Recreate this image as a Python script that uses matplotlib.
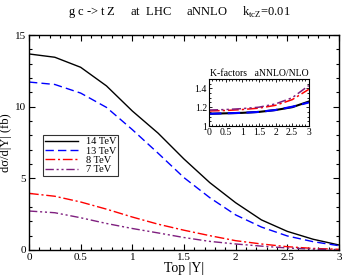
import matplotlib
matplotlib.use("Agg")
import matplotlib.pyplot as plt
from matplotlib.ticker import MultipleLocator

plt.rcParams['font.family'] = ['Liberation Serif', 'DejaVu Serif']
plt.rcParams['mathtext.fontset'] = 'custom'
plt.rcParams['mathtext.rm'] = 'Liberation Serif'

# ---- data ----
rap = [0, 0.25, 0.5, 0.75, 1.0, 1.25, 1.5, 1.75, 2.0, 2.25, 2.5, 2.75, 3.0]
xs14 = [13.68, 13.45, 12.75, 11.45, 9.7, 8.15, 6.35, 4.7, 3.3, 2.1, 1.3, 0.75, 0.35]
xs13 = [11.72, 11.55, 10.95, 9.95, 8.4, 6.75, 5.05, 3.65, 2.45, 1.6, 0.98, 0.58, 0.3]
xs8 = [3.95, 3.75, 3.35, 2.85, 2.3, 1.8, 1.38, 1.0, 0.65, 0.42, 0.23, 0.11, 0.05]
xs7 = [2.72, 2.6, 2.25, 1.85, 1.5, 1.19, 0.87, 0.6, 0.42, 0.27, 0.14, 0.06, 0.03]

krap = [0, 0.5, 1.0, 1.5, 2.0, 2.5, 3.0]
k14 = [1.13, 1.135, 1.14, 1.15, 1.17, 1.2, 1.26]
k13 = [1.13, 1.135, 1.14, 1.15, 1.17, 1.205, 1.25]
k8 = [1.16, 1.165, 1.175, 1.19, 1.22, 1.28, 1.39]
k7 = [1.17, 1.175, 1.185, 1.2, 1.235, 1.3, 1.43]

labels = ['14 TeV', '13 TeV', '8 TeV', '7 TeV']
colors = ['black', '#0000ff', '#ff0000', '#7f1f7f']
styles = ['-', (0, (6, 3)), (0, (7, 2, 1.5, 2)), (0, (6, 2, 1.5, 2, 1.5, 2))]

fig = plt.figure(figsize=(3.42, 2.77), dpi=100)
ax = fig.add_axes([0.0848, 0.0975, 0.9062, 0.776])

for y, lab, c, ls in zip([xs14, xs13, xs8, xs7], labels, colors, styles):
    ax.plot(rap, y, color=c, ls=ls, lw=1.0, label=lab)

ax.set_xlim(0, 3)
ax.set_ylim(0, 15)
ax.xaxis.set_major_locator(MultipleLocator(0.5))
ax.xaxis.set_minor_locator(MultipleLocator(0.1))
ax.yaxis.set_major_locator(MultipleLocator(5))
ax.yaxis.set_minor_locator(MultipleLocator(1))
ax.set_xticks([0, 0.5, 1, 1.5, 2, 2.5, 3])
ax.set_xticklabels(['0', '0.5', '1', '1.5', '2', '2.5', '3'])
ax.tick_params(which='both', direction='in', top=True, right=True, labelsize=8, pad=2)
ax.tick_params(which='major', length=4, width=0.8)
ax.tick_params(which='minor', length=2, width=0.8)
for s in ax.spines.values():
    s.set_linewidth(1.0)
ax.set_xlabel('Top |Y|', fontsize=10, labelpad=0)
ax.set_ylabel('d\u03c3/d|Y| (fb)', fontsize=9, labelpad=2)

leg = ax.legend(loc='upper left', bbox_to_anchor=(0.045, 0.535), fontsize=7.5,
                frameon=True, fancybox=False, edgecolor='black', handlelength=3.2,
                borderpad=0.2, labelspacing=0.0, handletextpad=0.7, borderaxespad=0)
leg.get_frame().set_linewidth(0.8)
for t in leg.get_texts():
    t.set_ha('right')
leg._legend_box.align = 'right'

fig.text(0.525, 0.955, 'g c -> t Z     at  LHC     aNNLO     k$_{\\mathrm{tcZ}}$=0.01',
         ha='center', va='center', fontsize=9)

# ---- inset ----
ins = fig.add_axes([0.611, 0.545, 0.292, 0.17])
for y, c, ls, lw in zip([k14, k13, k8, k7], colors, styles, [1.5, 1.5, 1.1, 1.1]):
    ins.plot(krap, y, color=c, ls=ls, lw=lw)
ins.set_xlim(0, 3)
ins.set_ylim(1, 1.5)
ins.set_xticks([0, 0.5, 1, 1.5, 2, 2.5, 3])
ins.set_xticklabels(['0', '0.5', '1', '1.5', '2', '2.5', '3'])
ins.set_yticks([1, 1.2, 1.4])
ins.set_yticklabels(['1', '1.2', '1.4'])
ins.xaxis.set_minor_locator(MultipleLocator(0.1))
ins.yaxis.set_minor_locator(MultipleLocator(0.05))
ins.tick_params(which='both', direction='in', top=True, right=True, labelsize=7, pad=1.5)
ins.tick_params(which='major', length=2.5, width=0.6)
ins.tick_params(which='minor', length=1.3, width=0.6)
for s in ins.spines.values():
    s.set_linewidth(0.8)
ins.set_title('K-factors   aNNLO/NLO', fontsize=7, pad=2)

fig.savefig('out.png', dpi=100)
